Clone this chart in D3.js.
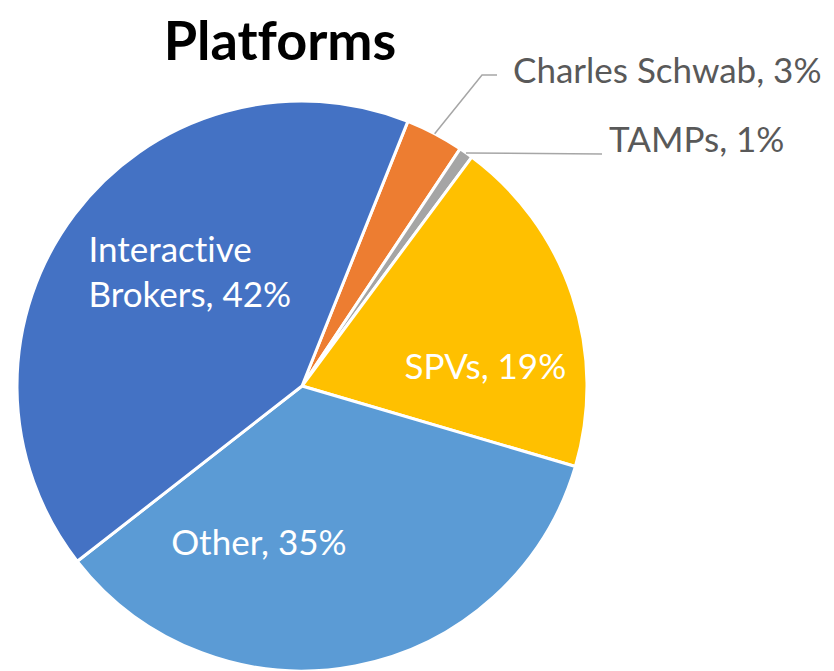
<!DOCTYPE html>
<html>
<head>
<meta charset="utf-8">
<script src="https://cdn.jsdelivr.net/npm/d3@7/dist/d3.min.js"></script>
<style>
  html, body { margin: 0; padding: 0; background: #ffffff; }
  svg { display: block; }
  text { font-variant-ligatures: none; font-feature-settings: "liga" 0, "dlig" 0; }
</style>
</head>
<body>
<script>
// ---- data ----
const categories = ["Charles Schwab", "TAMPs", "SPVs", "Other", "Interactive Brokers"];
const values = [3.3, 0.8, 19.4, 34.9, 41.6];
const colors = ["#ed7d31", "#a5a5a5", "#ffc000", "#5b9bd5", "#4472c4"];
const title = "Platforms";

// ---- layout ----
const W = 834, H = 671;
const cx = 302, cy = 386, R = 285;
const startDeg = 21.8;

const svg = d3.select("body").append("svg").attr("width", W).attr("height", H);
svg.append("rect").attr("width", W).attr("height", H).attr("fill", "#fff");

const total = d3.sum(values);
const data = categories.map((c, i) => ({ name: c, value: values[i], color: colors[i], pct: Math.round(values[i] / total * 100) }));

const pie = d3.pie().value(d => d.value).sort(null)
  .startAngle(startDeg * Math.PI / 180)
  .endAngle(startDeg * Math.PI / 180 + 2 * Math.PI);
const arcs = pie(data);
const arc = d3.arc().innerRadius(0).outerRadius(R);

const g = svg.append("g").attr("transform", `translate(${cx},${cy})`);
g.selectAll("path.slice").data(arcs).join("path")
  .attr("class", "slice")
  .attr("d", arc)
  .attr("fill", d => d.data.color)
  .attr("stroke", "#ffffff")
  .attr("stroke-width", 3)
  .attr("stroke-linejoin", "round");

const font = "Lato, 'Open Sans', sans-serif";
const fs = 35;

// title
svg.append("text").attr("x", 280).attr("y", 60)
  .attr("text-anchor", "middle")
  .attr("font-family", font)
  .attr("font-weight", 700).attr("font-size", 54).attr("fill", "#000")
  .text(title);

function polar(angle, r) { return [Math.sin(angle) * r, -Math.cos(angle) * r]; }

// inside label placement: offsets relative to the point at 0.56R on the slice bisector
const insideOffsets = {
  "Interactive Brokers": [16, -18],
  "SPVs": [32, 32],
  "Other": [-73, 0]
};
const lineBreaks = { "Interactive Brokers": ["Interactive", "Brokers, "] };

arcs.forEach(a => {
  const name = a.data.name;
  if (!(name in insideOffsets)) return;
  const mid = (a.startAngle + a.endAngle) / 2;
  const [px, py] = polar(mid, 0.56 * R);
  const off = insideOffsets[name];
  const x = px + off[0], y = py + off[1];
  const lines = lineBreaks[name]
    ? [lineBreaks[name][0], lineBreaks[name][1] + a.data.pct + "%"]
    : [name + ", " + a.data.pct + "%"];
  const lh = 45;
  const t = g.append("text")
    .attr("font-family", font).attr("font-size", fs).attr("fill", "#ffffff")
    .attr("text-anchor", lines.length > 1 ? "start" : "middle");
  const x0 = lines.length > 1 ? x - 102 : x;
  lines.forEach((ln, i) => {
    t.append("tspan").attr("x", x0)
      .attr("y", y + (i - (lines.length - 1) / 2) * lh + 12)
      .text(ln);
  });
});

// outside labels with leader lines
const outside = {
  "Charles Schwab": { elbow: [482 - cx, 75 - cy], end: [497 - cx, 75 - cy], text: [513 - cx, 83 - cy] },
  "TAMPs": { elbow: null, end: [602 - cx, 154 - cy], text: [609 - cx, 152 - cy] }
};
arcs.forEach(a => {
  const name = a.data.name;
  const o = outside[name];
  if (!o) return;
  const mid = (a.startAngle + a.endAngle) / 2;
  const p0 = polar(mid, R);
  const pts = [p0];
  if (o.elbow) pts.push(o.elbow);
  pts.push(o.end);
  g.append("path").attr("d", d3.line()(pts))
    .attr("fill", "none").attr("stroke", "#a6a6a6").attr("stroke-width", 1.5);
  g.append("text").attr("x", o.text[0]).attr("y", o.text[1])
    .attr("font-family", font).attr("font-size", fs).attr("fill", "#595959")
    .text(name + ", " + a.data.pct + "%");
});
</script>
</body>
</html>
